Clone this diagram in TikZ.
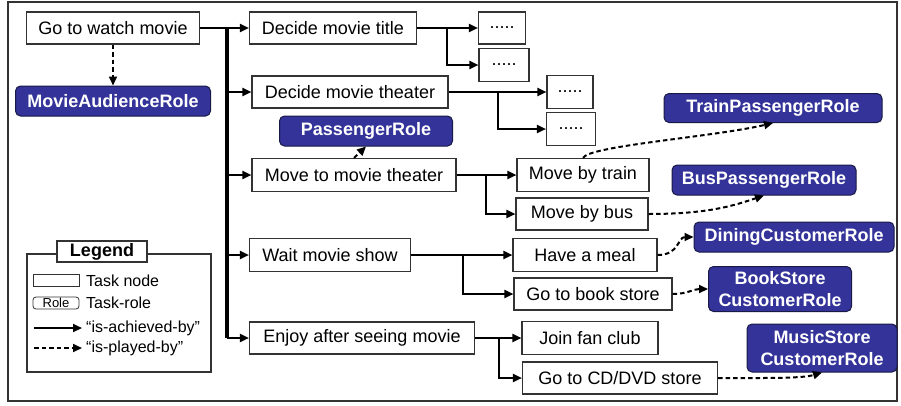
\documentclass[tikz,border=0pt]{standalone}
\usepackage{fontspec}
\setmainfont{Liberation Sans}
\usetikzlibrary{arrows.meta}
\definecolor{rolefill}{RGB}{51,51,153}
\definecolor{roleline}{RGB}{25,25,70}

\begin{document}
\begin{tikzpicture}[
  x=1pt,
  y=-1pt,
  task node/.style={
    draw=black!80,
    line width=1.1pt,
    fill=white,
    inner sep=0pt,
    minimum height=32pt,
    font=\fontsize{18}{22}\selectfont
  },
  role node/.style={
    draw=roleline,
    fill=rolefill,
    text=white,
    rounded corners=5pt,
    line width=1pt,
    inner sep=0pt,
    minimum height=30pt,
    align=center,
    font=\fontsize{18}{22}\selectfont\bfseries
  },
  achieved/.style={
    draw,
    line width=2pt,
    -{Triangle[length=9pt,width=8pt]}
  },
  played/.style={
    achieved,
    dash pattern=on 4.5pt off 3pt
  },
  trunk line/.style={
    draw,
    line width=3.2pt
  },
  key text/.style={
    anchor=west,
    inner sep=4pt,
    font=\fontsize{16}{18}\selectfont
  },
]
\useasboundingbox (0,0) rectangle (901,405);
\draw[black!80, line width=1.5pt] (8,2) rectangle (897,401);

% task tree
\node[task node, minimum width=173pt] (watch) at (113,28) {Go to watch movie};
\node[role node, minimum width=195pt] (audience) at (113,101) {MovieAudienceRole};

\node[task node, minimum width=167pt] (title) at (333,28) {Decide movie title};
\node[task node, minimum width=196pt] (theater) at (350,92) {Decide movie theater};
\node[role node, minimum width=173pt] (passenger) at (366,131) {PassengerRole};
\node[task node, minimum width=204pt, minimum height=33pt] (move) at (354,175) {Move to movie theater};
\node[task node, minimum width=161pt, minimum height=33pt] (wait) at (330,255) {Wait movie show};
\node[task node, minimum width=225pt] (enjoy) at (362,338) {Enjoy after seeing movie};

\node[task node, minimum width=47pt] (dotsA) at (502,28) {.....};
\node[task node, minimum width=50pt, minimum height=33pt] (dotsB) at (504,65) {.....};
\node[task node, minimum width=46pt, minimum height=33pt] (dotsC) at (570,92) {.....};
\node[task node, minimum width=49pt, minimum height=33pt] (dotsD) at (571,129) {.....};

\node[task node, minimum width=132pt, minimum height=33pt] (train) at (583,175) {Move by train};
\node[task node, minimum width=132pt] (bus) at (582,214) {Move by bus};
\node[task node, minimum width=144pt, minimum height=33pt] (meal) at (585,255) {Have a meal};
\node[task node, minimum width=158pt] (book) at (593,294) {Go to book store};
\node[task node, minimum width=136pt, minimum height=33pt] (fanclub) at (590,338) {Join fan club};
\node[task node, minimum width=195pt] (cddvd) at (620,378) {Go to CD/DVD store};

\node[role node, minimum width=218pt, minimum height=29pt] (trainrole) at (773,108) {TrainPassengerRole};
\node[role node, minimum width=184pt] (busrole) at (764,180) {BusPassengerRole};
\node[role node, minimum width=200pt] (diningrole) at (794,237) {DiningCustomerRole};
\node[role node, minimum width=143pt, minimum height=45pt] (bookrole) at (780,289) {BookStore\\CustomerRole};
\node[role node, minimum width=150pt, minimum height=48pt] (musicrole) at (822,348) {MusicStore\\CustomerRole};

% forks
\coordinate (trunk) at (227,28);
\coordinate (fork1) at (447,28);
\coordinate (fork2) at (498,92);
\coordinate (fork3) at (486,175);
\coordinate (fork4) at (463,255);
\coordinate (fork5) at (499,338);

% is-achieved-by
\draw[trunk line] (trunk) -- (trunk |- enjoy);
\draw[achieved] (watch) -- (title);
\draw[achieved] (trunk |- theater) -- (theater);
\draw[achieved] (trunk |- move) -- (move);
\draw[achieved] (trunk |- wait) -- (wait);
\draw[achieved] (trunk |- enjoy) -- (enjoy);
\draw[achieved] (title) -- (dotsA);
\draw[achieved] (fork1) |- (dotsB);
\draw[achieved] (theater) -- (dotsC);
\draw[achieved] (fork2) |- (dotsD);
\draw[achieved] (move) -- (train);
\draw[achieved] (fork3) |- (bus);
\draw[achieved] (wait) -- (meal);
\draw[achieved] (fork4) |- (book);
\draw[achieved] (enjoy) -- (fanclub);
\draw[achieved] (fork5) |- (cddvd);

% is-played-by
\draw[played] (watch) -- (audience);
\draw[played] (move.north) -- (passenger.south);
\draw[played] (train.north) .. controls +(5,-12) and +(-60,14) .. (trainrole.south);
\draw[played] (bus.east) .. controls +(60,0) and +(-30,10) .. (busrole.south);
\draw[played] (meal.east) .. controls +(22,0) and +(-16,0) .. (diningrole.west);
\draw[played] (book.east) .. controls +(15,0) and +(-15,0) .. (bookrole.west);
\draw[played] (cddvd.east) .. controls +(50,0) and +(-20,6) .. (musicrole.south);

% legend
\draw[black!80, line width=1.1pt] (27,254) rectangle (211,372);
\node[task node, minimum width=90pt, minimum height=21pt, font=\fontsize{18}{20}\selectfont\bfseries] (legend) at (102,251.5) {Legend};
\node[task node, minimum width=46pt, minimum height=12pt, line width=0.8pt] (tasksample) at (56,280) {};
\node[key text] (taskkey) at (82,281) {Task node};
\node[task node, minimum width=46pt, minimum height=12pt, line width=0.8pt, rounded corners=3pt, font=\fontsize{13}{13}\selectfont] (rolesample) at (56,303) {Role};
\node[key text] (rolekey) at (82,303) {Task-role};
\coordinate (keyA) at (34,328);
\node[key text] (achievedkey) at (82,328) {“is-achieved-by”};
\coordinate (keyB) at (34,348);
\node[key text] (playedkey) at (82,348) {“is-played-by”};
\draw[achieved] (keyA) -- (achievedkey.west);
\draw[played] (keyB) -- (playedkey.west);
\end{tikzpicture}
\end{document}
